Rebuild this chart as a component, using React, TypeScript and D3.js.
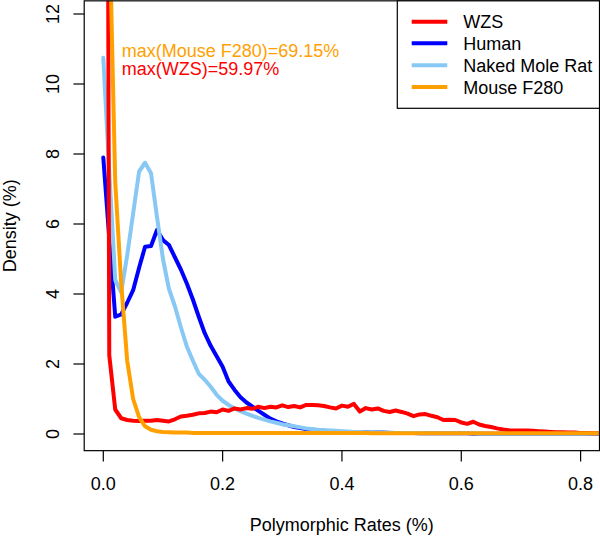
import React from 'react';
import * as d3 from 'd3';

const rates = [
  0.00, 0.01, 0.02, 0.03, 0.04, 0.05, 0.06, 0.07, 0.08, 0.09,
  0.10, 0.11, 0.12, 0.13, 0.14, 0.15, 0.16, 0.17, 0.18, 0.19,
  0.20, 0.21, 0.22, 0.23, 0.24, 0.25, 0.26, 0.27, 0.28, 0.29,
  0.30, 0.31, 0.32, 0.33, 0.34, 0.35, 0.36, 0.37, 0.38, 0.39,
  0.40, 0.41, 0.42, 0.43, 0.44, 0.45, 0.46, 0.47, 0.48, 0.49,
  0.50, 0.51, 0.52, 0.53, 0.54, 0.55, 0.56, 0.57, 0.58, 0.59,
  0.60, 0.61, 0.62, 0.63, 0.64, 0.65, 0.66, 0.67, 0.68, 0.69,
  0.70, 0.71, 0.72, 0.73, 0.74, 0.75, 0.76, 0.77, 0.78, 0.79,
  0.80, 0.81, 0.82, 0.83, 0.84, 0.85,
];

const wzs = [
  59.97, 2.25, 0.70, 0.45, 0.40, 0.38, 0.37, 0.38, 0.38, 0.40,
  0.38, 0.36, 0.42, 0.50, 0.52, 0.55, 0.59, 0.60, 0.64, 0.62,
  0.70, 0.66, 0.73, 0.70, 0.74, 0.72, 0.78, 0.74, 0.78, 0.76,
  0.82, 0.77, 0.80, 0.76, 0.83, 0.83, 0.82, 0.80, 0.76, 0.73,
  0.81, 0.78, 0.86, 0.64, 0.74, 0.70, 0.73, 0.66, 0.63, 0.67,
  0.63, 0.58, 0.51, 0.56, 0.57, 0.52, 0.48, 0.40, 0.41, 0.40,
  0.33, 0.29, 0.35, 0.27, 0.23, 0.20, 0.16, 0.13, 0.11, 0.10,
  0.10, 0.10, 0.09, 0.08, 0.07, 0.06, 0.05, 0.05, 0.04, 0.04,
  0.03, 0.03, 0.02, 0.02, 0.02, 0.02,
];

const human = [
  7.90, 5.60, 3.35, 3.42, 3.75, 4.11, 4.75, 5.35, 5.37, 5.83,
  5.54, 5.40, 5.05, 4.70, 4.30, 3.85, 3.35, 2.88, 2.52, 2.22,
  1.92, 1.50, 1.26, 1.05, 0.90, 0.78, 0.66, 0.55, 0.44, 0.36,
  0.30, 0.25, 0.20, 0.17, 0.14, 0.11, 0.10, 0.09, 0.08, 0.07,
  0.06, 0.06, 0.05, 0.05, 0.05, 0.04, 0.04, 0.04, 0.03, 0.03,
  0.03, 0.03, 0.03, 0.02, 0.02, 0.02, 0.02, 0.02, 0.02, 0.02,
  0.02, 0.02, 0.01, 0.01, 0.01, 0.01, 0.01, 0.01, 0.01, 0.01,
  0.01, 0.01, 0.01, 0.01, 0.01, 0.01, 0.01, 0.01, 0.01, 0.01,
  0.01, 0.01, 0.01, 0.01, 0.01, 0.01,
];

const nakedMoleRat = [
  10.75, 7.50, 4.40, 4.05, 5.10, 6.30, 7.50, 7.75, 7.45, 6.20,
  5.00, 4.15, 3.65, 3.05, 2.50, 2.10, 1.72, 1.55, 1.35, 1.12,
  0.95, 0.83, 0.73, 0.65, 0.58, 0.52, 0.46, 0.41, 0.36, 0.32,
  0.28, 0.25, 0.22, 0.19, 0.16, 0.14, 0.12, 0.11, 0.10, 0.09,
  0.08, 0.07, 0.06, 0.06, 0.05, 0.05, 0.04, 0.04, 0.04, 0.03,
  0.03, 0.03, 0.03, 0.03, 0.02, 0.02, 0.02, 0.02, 0.02, 0.02,
  0.02, 0.02, 0.02, 0.01, 0.01, 0.01, 0.01, 0.01, 0.01, 0.01,
  0.01, 0.01, 0.01, 0.01, 0.01, 0.01, 0.01, 0.01, 0.01, 0.01,
  0.01, 0.01, 0.01, 0.01, 0.01, 0.01,
];

const mouseF280 = [
  69.15, 14.70, 7.20, 4.30, 2.10, 1.00, 0.48, 0.22, 0.12, 0.08,
  0.06, 0.05, 0.04, 0.04, 0.04, 0.03, 0.03, 0.03, 0.03, 0.03,
  0.03, 0.03, 0.03, 0.03, 0.03, 0.03, 0.03, 0.03, 0.03, 0.03,
  0.03, 0.03, 0.03, 0.03, 0.03, 0.03, 0.03, 0.03, 0.03, 0.03,
  0.03, 0.03, 0.03, 0.03, 0.03, 0.02, 0.02, 0.02, 0.02, 0.02,
  0.02, 0.02, 0.02, 0.02, 0.02, 0.02, 0.02, 0.02, 0.02, 0.02,
  0.02, 0.02, 0.02, 0.02, 0.02, 0.02, 0.02, 0.02, 0.02, 0.02,
  0.02, 0.02, 0.02, 0.02, 0.02, 0.02, 0.02, 0.02, 0.02, 0.02,
  0.02, 0.02, 0.02, 0.02, 0.02, 0.02,
];

const seriesNames = ['WZS', 'Human', 'Naked Mole Rat', 'Mouse F280'];
const seriesColors = ['#FF0000', '#0000FF', '#87C8F5', '#FFA000'];
const seriesValues = [wzs, human, nakedMoleRat, mouseF280];
const drawOrder = [1, 2, 0, 3];

const xTicks = [0, 0.2, 0.4, 0.6, 0.8];
const xTickLabels = ['0.0', '0.2', '0.4', '0.6', '0.8'];
const yTicks = [0, 2, 4, 6, 8, 10, 12];
const yTickLabels = ['0', '2', '4', '6', '8', '10', '12'];

const xTitle = 'Polymorphic Rates (%)';
const yTitle = 'Density (%)';
const annotationTexts = ['max(Mouse F280)=69.15%', 'max(WZS)=59.97%'];
const annotationColors = ['#FFA000', '#FF0000'];

const FONT = "'Liberation Sans', Arial, Helvetica, sans-serif";

export default function App() {
  const W = 600;
  const H = 537;
  const x = d3.scaleLinear().domain([0, 0.8]).range([103.3, 580.6]);
  const y = d3.scaleLinear().domain([0, 12]).range([434, 14]);
  const yMax = 11.9;
  const bx0 = x(-0.032);
  const bx1 = Math.min(x(0.832), 599.5);
  const by0 = y(yMax * 1.04);
  const by1 = y(-yMax * 0.04);
  const tick = 10.8;

  const line = d3
    .line<number>()
    .x((_, i) => x(rates[i]))
    .y((d) => y(d));

  const legX0 = 397.3;
  const legY1 = 108.3;
  const rowY = [21.7, 43.3, 65.2, 87.1];

  return (
    <svg
      width={W}
      height={H}
      style={{ position: 'absolute', left: 0, top: 0, background: '#fff' }}
      fontFamily={FONT}
    >
      <defs>
        <clipPath id="plotclip">
          <rect x={bx0} y={by0} width={bx1 - bx0} height={by1 - by0} />
        </clipPath>
      </defs>
      <rect x={0} y={0} width={W} height={H} fill="#fff" />

      <g clipPath="url(#plotclip)">
        {drawOrder.map((k) => (
          <path
            key={seriesNames[k]}
            d={line(seriesValues[k]) || ''}
            fill="none"
            stroke={seriesColors[k]}
            strokeWidth={4}
            strokeLinejoin="round"
            strokeLinecap="round"
          />
        ))}
      </g>

      <rect
        x={bx0}
        y={by0}
        width={bx1 - bx0}
        height={by1 - by0}
        fill="none"
        stroke="#000"
        strokeWidth={1.2}
      />

      {xTicks.map((t, i) => (
        <g key={'xt' + i}>
          <line x1={x(t)} x2={x(t)} y1={by1} y2={by1 + tick} stroke="#000" strokeWidth={1.2} />
          <text x={x(t)} y={490} fontSize={18} textAnchor="middle" fill="#000">
            {xTickLabels[i]}
          </text>
        </g>
      ))}

      {yTicks.map((t, i) => (
        <g key={'yt' + i}>
          <line x1={bx0} x2={bx0 - tick} y1={y(t)} y2={y(t)} stroke="#000" strokeWidth={1.2} />
          <text
            transform={`translate(58.5,${y(t)}) rotate(-90)`}
            fontSize={18}
            textAnchor="middle"
            fill="#000"
          >
            {yTickLabels[i]}
          </text>
        </g>
      ))}

      <text x={(bx0 + bx1) / 2} y={531} fontSize={18} textAnchor="middle" fill="#000">
        {xTitle}
      </text>
      <text
        transform={`translate(15.5,${(by0 + by1) / 2}) rotate(-90)`}
        fontSize={18}
        textAnchor="middle"
        fill="#000"
      >
        {yTitle}
      </text>

      {annotationTexts.map((t, i) => (
        <text key={'an' + i} x={121.7} y={56.7 + i * 18.6} fontSize={18} fill={annotationColors[i]}>
          {t}
        </text>
      ))}

      <rect
        x={legX0}
        y={by0}
        width={bx1 - legX0}
        height={legY1 - by0}
        fill="#fff"
        stroke="#000"
        strokeWidth={1.2}
      />
      {seriesNames.map((n, i) => (
        <g key={'lg' + i}>
          <line
            x1={411.7}
            x2={447.3}
            y1={rowY[i]}
            y2={rowY[i]}
            stroke={seriesColors[i]}
            strokeWidth={4}
          />
          <text x={463.3} y={rowY[i] + 6.4} fontSize={18} fill="#000">
            {n}
          </text>
        </g>
      ))}
    </svg>
  );
}
